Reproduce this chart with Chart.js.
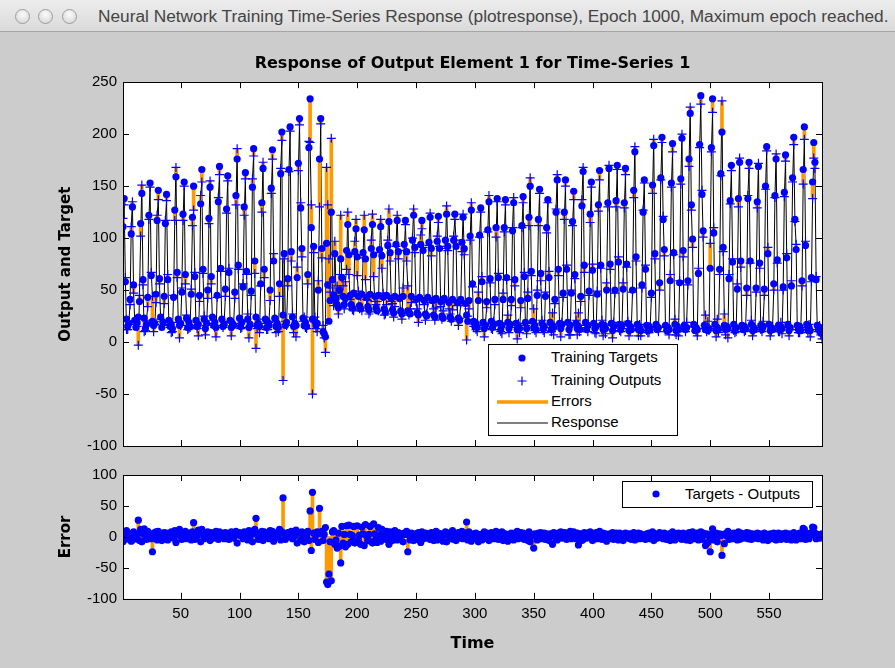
<!DOCTYPE html>
<html>
<head>
<meta charset="utf-8">
<script src="https://cdn.jsdelivr.net/npm/chart.js@4.4.1/dist/chart.umd.min.js"></script>
<style>
  html, body { margin: 0; padding: 0; }
  body { width: 895px; height: 668px; background: #cccccc; position: relative; overflow: hidden;
         font-family: 'Liberation Sans', Arial, sans-serif; }
  #titlebar { position: absolute; left: 0; top: 0; width: 895px; height: 31px;
              background: linear-gradient(#ededed, #dadada); border-bottom: 1px solid #a5a5a5; }
  .light { position: absolute; top: 9px; width: 13px; height: 13px; border-radius: 50%;
           border: 1px solid #9c9c9c; background: radial-gradient(circle at 50% 35%, #fbfbfb, #d2d2d2); }
  #wintitle { position: absolute; left: 98px; top: 6px; font-size: 17.3px; color: #444; white-space: nowrap; }
  .wrap { position: absolute; left: 0; }
  .legend { position: absolute; background: #fff; border: 1px solid #000; box-sizing: border-box; }
  .legend svg { position: absolute; left: 0; top: 0; }
  .legend span { position: absolute; font-size: 15px; line-height: 18px; color: #000; white-space: nowrap; }
</style>
</head>
<body>
<div id="titlebar">
  <div class="light" style="left:15px"></div>
  <div class="light" style="left:38px"></div>
  <div class="light" style="left:62px"></div>
  <div id="wintitle">Neural Network Training Time-Series Response (plotresponse), Epoch 1000, Maximum epoch reached.</div>
</div>

<div class="wrap" style="top:40px"><canvas id="respChart" width="895" height="430"></canvas></div>
<div class="wrap" style="top:460px"><canvas id="errChart" width="895" height="208"></canvas></div>

<div class="legend" style="left:488px;top:344px;width:190px;height:92px">
  <svg width="188" height="90">
    <circle cx="33" cy="13" r="3.6" fill="#0000ff"/>
    <path d="M28.5 36 H37.5 M33 31.5 V40.5" stroke="#0000ff" stroke-width="1.2"/>
    <line x1="8" y1="57" x2="59" y2="57" stroke="#ff9900" stroke-width="3.5"/>
    <line x1="8" y1="78" x2="59" y2="78" stroke="#000" stroke-width="1"/>
  </svg>
  <span style="left:62px;top:3px">Training Targets</span>
  <span style="left:62px;top:26px">Training Outputs</span>
  <span style="left:62px;top:47px">Errors</span>
  <span style="left:62px;top:68px">Response</span>
</div>

<div class="legend" style="left:622px;top:481px;width:191px;height:27px">
  <svg width="189" height="25"><circle cx="33" cy="12" r="3.6" fill="#0000ff"/></svg>
  <span style="left:62px;top:3px">Targets - Outputs</span>
</div>

<script>
// training targets, one value per time step (1..595)
const targets = [
  111,
  138, 58, 22, 15, 18, 41, 104,
  130, 55, 21, 14, 19, 24, 39, 114,
  143, 60, 23, 13, 17, 43, 122,
  153, 64, 20, 16, 18, 46, 117,
  146, 61, 24, 14, 19, 44, 114,
  142, 60, 21, 15, 17, 13, 43, 127,
  159, 67, 22, 16, 18, 48, 123,
  154, 65, 23, 14, 19, 15, 46, 120,
  150, 63, 21, 15, 17, 45, 133,
  166, 70, 22, 13, 18, 50, 119,
  149, 63, 24, 16, 19, 14, 45, 135,
  169, 71, 22, 15, 17, 51, 128,
  160, 67, 21, 14, 18, 16, 48, 141,
  176, 74, 23, 15, 19, 53, 130,
  163, 68, 22, 14, 17, 49, 149,
  186, 78, 24, 16, 18, 15, 56, 134,
  167, 70, 22, 14, 19, 16, 50, 148,
  185, 78, 23, 15, 18, 14, 56, 162,
  202, 26, 85, 16, 19, 61, 166,
  207, 87, 24, 15, 18, 16, 62, 172,
  215, 129, 90, 23, 16, 19, 15, 65, 187,
  234, 110, 22, 92, 20, 16, 18, 50, 176,
  215, 90, 10, 8, 5, 95, 55, 20, 40, 125, 60, 45, 85, 42,
  36, 33, 50,
  80, 62, 44, 36, 42, 88,
  113, 84, 45, 36, 33, 47, 87,
  109, 82, 44, 35, 32, 46, 86,
  108, 80, 43, 34, 31, 46, 90,
  113, 84, 44, 33, 30, 45, 89,
  111, 83, 43, 32, 29, 45, 93,
  116, 86, 42, 31, 28, 44, 94,
  117, 87, 42, 30, 27, 44, 94,
  117, 87, 30, 29, 27, 44, 98,
  122, 91, 41, 28, 26, 43, 94,
  117, 88, 40, 27, 25, 43, 96,
  120, 90, 40, 26, 24, 42, 97,
  121, 90, 39, 25, 23, 42, 98,
  123, 92, 38, 24, 22, 41, 98,
  123, 92, 38, 23, 21, 41, 96,
  120, 90, 37, 26, 20, 40, 102,
  127, 56, 20, 15, 18, 14, 40, 103,
  129, 58, 19, 13, 16, 39, 108,
  135, 61, 20, 14, 17, 41, 110,
  138, 62, 18, 12, 16, 41, 110,
  137, 62, 19, 13, 17, 41, 107,
  134, 60, 18, 12, 15, 13, 40, 112,
  140, 63, 19, 13, 42, 120,
  150, 68, 20, 14, 16, 12, 45, 118,
  147, 66, 18, 13, 15, 44, 110,
  137, 62, 19, 12, 16, 14, 41, 125,
  156, 70, 18, 13, 17, 47, 125,
  156, 70, 19, 12, 16, 47, 116,
  145, 65, 18, 13, 15, 12, 44, 131,
  164, 74, 19, 12, 16, 49, 123,
  154, 69, 18, 13, 15, 46, 132,
  165, 74, 17, 12, 16, 13, 50, 134,
  167, 75, 18, 11, 15, 50, 136,
  170, 77, 17, 12, 16, 51, 134,
  167, 75, 18, 11, 15, 12, 50, 146,
  183, 82, 17, 12, 14, 11, 55, 125,
  156, 70, 16, 11, 15, 12, 47, 151,
  189, 85, 17, 12, 14, 57, 158,
  197, 118, 89, 16, 11, 14, 12, 59, 153,
  191, 86, 17, 11, 15, 12, 57, 157,
  196, 88, 16, 12, 14, 59, 176,
  220, 132, 99, 17, 11, 14, 12, 66, 190,
  237, 142, 107, 16, 12, 15, 11, 13, 71, 187,
  234, 105, 17, 11, 14, 12, 70, 162,
  202, 91, 16, 12, 15, 13, 61, 136,
  170, 77, 17, 11, 14, 51, 138,
  173, 78, 16, 12, 15, 13, 52, 138,
  173, 78, 17, 11, 14, 12, 52, 135,
  169, 76, 16, 12, 15, 51, 150,
  188, 85, 17, 11, 14, 12, 56, 141,
  176, 79, 16, 12, 15, 13, 53, 144,
  180, 81, 17, 11, 14, 54, 158,
  197, 118, 89, 16, 12, 15, 11, 59, 166,
  207, 93, 17, 12, 14, 11, 62, 154,
  192, 173, 60, 16, 12, 14, 10, 8
];

// errors = targets - outputs, same time steps
const errors = [
  -8,
  6, -4, 10, 3, -2, 5, -7,
  -5, 8, 2, -3, 4, 27, -6, 12,
  -8, 5, 13, 2, -4, 9, 4,
  4, -3, -24, 6, 1, 8, -5,
  9, 5, 2, -6, 3, 7, -3,
  6, -5, 4, 1, 8, 3, -2, 10,
  -9, 5, 3, 12, 2, -4, 6,
  4, 9, -3, 2, 6, 1, -5, 8,
  23, -4, 5, 2, 11, 6, -8,
  12, 4, -3, 6, 2, 8, 5,
  -6, 7, 3, -2, 5, 9, 2, -4,
  8, 3, 6, 1, -3, 7, 4,
  5, -4, 2, 8, 3, -2, 6, 9,
  -10, 4, 7, 2, 5, -3, 8,
  6, 3, -5, 10, 2, 4, -8,
  7, 12, 30, 3, -4, 6, 2, 9,
  -6, 8, 4, 2, 7, -3, 10, 5,
  9, -7, 3, 6, 1, 4, 12, -5,
  8, 63, 5, -4, 3, 7, 2,
  4, 9, -3, 6, 2, 11, -10, 7,
  6, -5, 8, 3, -8, 5, 2, 9, -6,
  42, -22, 72, 6, -4, 3, 8, -9, 46,
  5, 9, -6, 4, 15, -73, -77, -60, -8, -71, 8, 10, -12, -5,
  -18, 6, -15,
  -42, 17, -10, 4, -16, 18,
  -12, 19, 4, -8, 2, 17, -10,
  -9, 18, -5, 3, -12, 16, 5,
  -14, 20, 2, -6, 4, 17, -8,
  -10, 21, 5, -3, -9, 15, 3,
  -7, 12, -4, 6, 2, 9, -5,
  -12, 8, 3, -6, 4, 10, 2,
  -5, 7, -3, 2, 5, -8, 6,
  4, 9, -24, 3, -5, 6, -2,
  -6, 5, 2, -4, 7, 3, -9,
  8, -3, 4, 6, -2, 5, 3,
  -4, 7, 2, -6, 3, 9, -5,
  6, -2, 5, 3, -7, 4, 8,
  -8, 4, 6, -3, 2, 10, -4,
  5, -6, 3, 7, -2, 4, 9,
  -3, 6, 2, 24, -5, 8, 4,
  -7, 3, 5, -2, 6, 4, -8, 2,
  4, -5, 3, 8, -2, 6, 2,
  -6, 4, 7, 2, -3, 5, 9,
  3, -4, 6, 2, 8, -6, 4,
  5, 2, -7, 4, 3, 6, -3,
  -5, 6, 2, 9, -3, 4, 7, 2,
  6, -4, 3, 5, -6, 8,
  -8, 4, 2, -18, 5, 3, -5, 6,
  4, 7, -3, 2, 6, -4, 5,
  3, -6, 5, 2, -12, 7, 4, -3,
  -5, 6, 3, 8, -2, 4, 7,
  6, -4, 2, 5, 9, -3, 4,
  8, 4, -3, 6, -13, 2, 5, -6,
  -4, 7, 3, -2, 6, 4, 8,
  5, -6, 2, 4, 7, -3, 6,
  9, 3, -4, 6, 2, 5, -7, 4,
  -3, 5, 2, 7, -4, 3, 6,
  4, -5, 6, 2, 3, -6, 5,
  6, 3, -2, 5, 4, -4, 2, 7,
  -5, 4, 2, 6, -3, 5, 3, -2,
  3, -4, 5, 2, 6, -3, 4, 8,
  -6, 5, 3, -2, 4, 7, 2,
  5, -3, 6, 2, -4, 3, 5, -6, 4,
  8, 2, -5, 4, 3, 6, -2, 5,
  -4, 6, 3, 2, -5, 4, 7,
  -6, 5, 8, 2, -3, 4, 6, -5, 3,
  8, -4, 6, 3, -14, 5, -9, 2, -24, 4,
  13, -5, 4, 6, -8, 3, 5, 2,
  -30, 4, -11, 5, 2, 9, -4, 3,
  5, -3, 6, 2, 4, -5, 8,
  -4, 6, 3, -2, 5, 2, 7, -3,
  6, 2, -4, 5, 3, -2, 4, 6,
  -3, 5, 4, 2, -5, 6, 3,
  4, -6, 2, 5, 3, -3, 6, 2,
  -5, 3, 6, 2, -4, 5, 3, 4,
  6, -4, 3, 5, 2, -5, 4,
  7, 2, -5, 4, 3, 6, -3, 5, 14,
  12, -4, 5, 3, -3, 6, 4, 16,
  15, 6, -3, 4, 2, -2, 3, 5
];

const xTicks = [50, 100, 150, 200, 250, 300, 350, 400, 450, 500, 550];
const yTicksResp = [-100, -50, 0, 50, 100, 150, 200, 250];
const yTicksErr = [-100, -50, 0, 50, 100];

if (targets.length !== 595 || errors.length !== 595) {
  throw new Error('lengths ' + targets.length + ' ' + errors.length);
}

const time = targets.map((_, i) => i + 1);
const outputs = targets.map((v, i) => v - errors[i]);

const BLUE = '#0000ff';
const ORANGE = '#ff9900';
const regular = "'Liberation Sans', Arial, sans-serif";
const bold = "'DejaVu Sans', sans-serif";

// white plot area, box and inward tick marks like a matlab axes
const axesBox = {
  id: 'axesBox',
  beforeDraw(chart) {
    const { ctx, chartArea: a } = chart;
    ctx.save();
    ctx.fillStyle = '#fff';
    ctx.fillRect(a.left, a.top, a.right - a.left, a.bottom - a.top);
    ctx.restore();
  },
  afterDraw(chart) {
    const { ctx, chartArea: a, scales } = chart;
    const len = 6;
    ctx.save();
    ctx.strokeStyle = '#000';
    ctx.lineWidth = 1;
    ctx.beginPath();
    scales.x.ticks.forEach(t => {
      const px = Math.round(scales.x.getPixelForValue(t.value)) + 0.5;
      ctx.moveTo(px, a.bottom); ctx.lineTo(px, a.bottom - len);
      ctx.moveTo(px, a.top); ctx.lineTo(px, a.top + len);
    });
    scales.y.ticks.forEach(t => {
      const py = Math.round(scales.y.getPixelForValue(t.value)) + 0.5;
      ctx.moveTo(a.left, py); ctx.lineTo(a.left + len, py);
      ctx.moveTo(a.right, py); ctx.lineTo(a.right - len, py);
    });
    ctx.stroke();
    ctx.strokeRect(Math.round(a.left) + 0.5, Math.round(a.top) + 0.5,
                   Math.round(a.right - a.left), Math.round(a.bottom - a.top));
    ctx.restore();
  }
};

function xScale(showLabels) {
  return {
    type: 'linear', min: 1, max: 595, offset: false,
    afterBuildTicks: s => { s.ticks = xTicks.map(v => ({ value: v })); },
    ticks: { display: showLabels, color: '#000', padding: 6, maxRotation: 0,
             font: { family: regular, size: 15 } },
    grid: { display: false, drawTicks: false },
    border: { display: false },
    title: { display: showLabels, text: 'Time', color: '#000',
             font: { family: bold, size: 16, weight: 'bold' }, padding: { top: 5, bottom: 0 } },
    afterFit: showLabels ? undefined : s => { s.height = 0; }
  };
}

function yScale(min, max, tickList, label) {
  return {
    min: min, max: max,
    afterBuildTicks: s => { s.ticks = tickList.map(v => ({ value: v })); },
    ticks: { color: '#000', padding: 6, font: { family: regular, size: 15 } },
    grid: { display: false, drawTicks: false },
    border: { display: false },
    title: { display: true, text: label, color: '#000',
             font: { family: bold, size: 15, weight: 'bold' }, padding: { top: 5, bottom: 0 } },
    afterFit: s => { s.width = 71; }
  };
}

new Chart(document.getElementById('respChart'), {
  type: 'line',
  data: {
    datasets: [
      {
        label: 'Response',
        data: time.map((t, i) => ({ x: t, y: outputs[i] })),
        borderColor: '#000', borderWidth: 1, pointRadius: 0, tension: 0, fill: false,
        order: 3
      },
      {
        type: 'bar',
        label: 'Errors',
        data: time.map((t, i) => ({ x: t, y: [outputs[i], targets[i]] })),
        backgroundColor: ORANGE, borderWidth: 0, barThickness: 3,
        order: 2
      },
      {
        label: 'Training Targets',
        data: time.map((t, i) => ({ x: t, y: targets[i] })),
        showLine: false, pointRadius: 3.6, pointBackgroundColor: BLUE, pointBorderWidth: 0,
        borderColor: BLUE,
        order: 1
      },
      {
        label: 'Training Outputs',
        data: time.map((t, i) => ({ x: t, y: outputs[i] })),
        showLine: false, pointStyle: 'cross', pointRadius: 4.5,
        borderColor: BLUE, pointBorderColor: BLUE, pointBorderWidth: 1.2,
        order: 0
      }
    ]
  },
  options: {
    responsive: false, animation: false, events: [], devicePixelRatio: 1,
    layout: { padding: { left: 52, right: 73, top: 0, bottom: 24 } },
    plugins: {
      legend: { display: false },
      tooltip: { enabled: false },
      title: {
        display: true, fullSize: false,
        text: 'Response of Output Element 1 for Time-Series 1',
        color: '#000', font: { family: bold, size: 16, weight: 'bold' },
        padding: { top: 14, bottom: 9 }
      }
    },
    scales: {
      x: xScale(false),
      y: yScale(-100, 250, yTicksResp, 'Output and Target')
    }
  },
  plugins: [axesBox]
});

new Chart(document.getElementById('errChart'), {
  type: 'line',
  data: {
    datasets: [
      {
        type: 'bar',
        label: 'Error stems',
        data: time.map((t, i) => ({ x: t, y: errors[i] })),
        backgroundColor: ORANGE, borderWidth: 0, barThickness: 3,
        order: 1
      },
      {
        label: 'Targets - Outputs',
        data: time.map((t, i) => ({ x: t, y: errors[i] })),
        showLine: false, pointRadius: 3.6, pointBackgroundColor: BLUE, pointBorderWidth: 0,
        borderColor: BLUE,
        order: 0
      }
    ]
  },
  options: {
    responsive: false, animation: false, events: [], devicePixelRatio: 1,
    layout: { padding: { left: 52, right: 73, top: 13, bottom: 15 } },
    plugins: { legend: { display: false }, tooltip: { enabled: false } },
    scales: {
      x: xScale(true),
      y: yScale(-100, 100, yTicksErr, 'Error')
    }
  },
  plugins: [axesBox]
});
</script>
</body>
</html>
